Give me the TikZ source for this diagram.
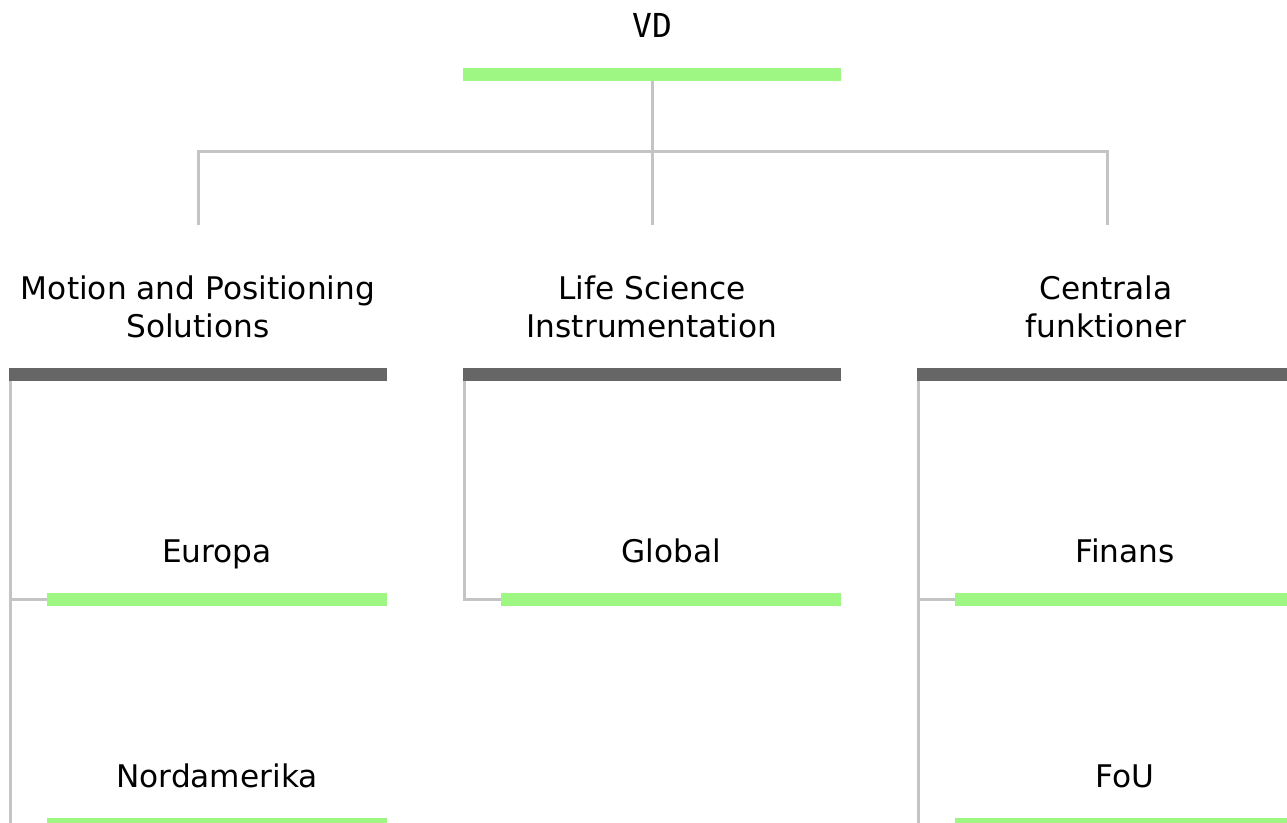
\documentclass[tikz,border=0pt]{standalone}
\usepackage{fontspec}
\setmainfont{DejaVu Sans}
\newfontfamily\vdfont{DejaVu Sans Mono}

\definecolor{barGreen}{RGB}{158,247,130}
\definecolor{barDark}{RGB}{102,102,102}
\definecolor{lineGray}{RGB}{196,196,196}

\begin{document}
\begin{tikzpicture}[
      x=0.5pt,
      y=-0.5pt,
      greenbar/.style={
          rectangle,
          fill=barGreen,
          inner sep=0pt,
          minimum width=189pt,
          minimum height=6.5pt
        },
      darkbar/.style={
          greenbar,
          fill=barDark
        },
      subbar/.style={
          greenbar,
          minimum width=170pt
        },
      label/.style={
          anchor=base,
          align=center,
          inner sep=0pt,
          font=\fontsize{15.6}{19}\selectfont
        },
      conn/.style={
          draw=lineGray,
          line width=1.5pt
        }
    ]
    \useasboundingbox (0,0) rectangle (1287,823);
    \clip (0,0) rectangle (1287,823);

    % Bars
    \node[greenbar] (vdbar) at (652,74.5) {};
    \node[darkbar] (mpsbar) at (198,374.5) {};
    \node[darkbar] (lsibar) at (652,374.5) {};
    \node[darkbar] (cfbar) at (1106,374.5) {};
    \node[subbar] (europabar) at (217,599.5) {};
    \node[subbar] (nordbar) at (217,824.5) {};
    \node[subbar] (globalbar) at (671,599.5) {};
    \node[subbar] (finansbar) at (1125,599.5) {};
    \node[subbar] (foubar) at (1125,824.5) {};

    % Labels
    \node[label, font=\fontsize{16.5}{19}\vdfont] (vd) at (652,38) {VD};
    \node[label] (mps) at (198,338) {Motion and Positioning\\Solutions};
    \node[label] (lsi) at (652,338) {Life Science\\Instrumentation};
    \node[label] (cf) at (1106,338) {Centrala\\funktioner};
    \node[label] (europa) at (217,563) {Europa};
    \node[label] (nord) at (217,788) {Nordamerika};
    \node[label] (global) at (671,563) {Global};
    \node[label] (finans) at (1125,563) {Finans};
    \node[label] (fou) at (1125,788) {FoU};

    % Connectors
    \coordinate (hub) at (652,152);
    \coordinate (mpsin) at (198,225);
    \coordinate (lsiin) at (652,225);
    \coordinate (cfin) at (1107,225);
    \coordinate (mpsspine) at ([xshift=1pt]mpsbar.south west);
    \coordinate (lsispine) at ([xshift=1pt]lsibar.south west);
    \coordinate (cfspine) at ([xshift=1pt]cfbar.south west);
    \draw[conn] (vdbar.south) -- (lsiin);
    \draw[conn] (mpsin) |- (hub) -| (cfin);

    \draw[conn] (mpsspine) |- (nordbar.west);
    \draw[conn] (europabar.west) -- (europabar.west -| mpsspine);
    \draw[conn] (lsispine) |- (globalbar.west);
    \draw[conn] (cfspine) |- (foubar.west);
    \draw[conn] (finansbar.west) -- (finansbar.west -| cfspine);

  \end{tikzpicture}
\end{document}
